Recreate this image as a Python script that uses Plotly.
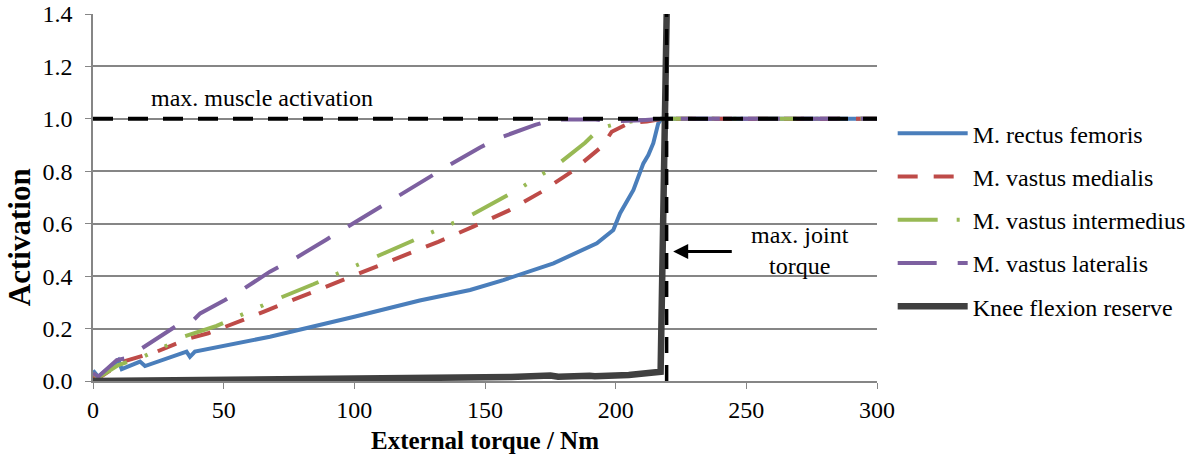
import plotly.graph_objects as go

# ---- data ----
rf_x = [0, 2, 9.7, 11, 18, 19.9, 35.8, 37.1, 39, 67.7, 100, 125, 144.3, 157, 176.2, 192.8, 199.1, 201.7, 206.8, 210.6, 212.5, 214.4, 216.3, 217.5, 219, 300]
rf_y = [0.04, 0.016, 0.08, 0.045, 0.074, 0.057, 0.112, 0.092, 0.112, 0.169, 0.245, 0.307, 0.347, 0.385, 0.449, 0.525, 0.576, 0.64, 0.729, 0.83, 0.862, 0.907, 0.983, 1.0, 1.0, 1.0]

vm_x = [0, 2, 11.6, 18, 24.4, 31.4, 37.1, 44.1, 51.2, 57.5, 65.2, 78, 92, 105.4, 118.8, 132.1, 145.5, 159, 171.7, 183.2, 194.7, 198.5, 204.9, 211.9, 218, 300]
vm_y = [0.02, 0.01, 0.074, 0.095, 0.112, 0.141, 0.163, 0.182, 0.207, 0.233, 0.264, 0.315, 0.37, 0.423, 0.477, 0.531, 0.589, 0.65, 0.722, 0.799, 0.894, 0.951, 0.983, 0.99, 1.0, 1.0]

vi_x = [0, 2, 9.7, 19.3, 26.9, 33.9, 47.3, 55, 62.6, 70.3, 84.3, 91.3, 99, 106.6, 120, 127.4, 135.1, 143, 155.8, 162.8, 169.8, 176.8, 188.3, 194, 201.7, 210, 218, 300]
vi_y = [0.03, 0.012, 0.061, 0.093, 0.128, 0.167, 0.21, 0.245, 0.277, 0.312, 0.369, 0.4, 0.434, 0.464, 0.525, 0.557, 0.591, 0.624, 0.693, 0.731, 0.776, 0.818, 0.909, 0.964, 0.985, 0.995, 1.0, 1.0]

vl_x = [0, 2, 9.1, 12.2, 18.6, 31.4, 37.8, 41, 50.5, 56.9, 67.7, 76.7, 89.4, 96.4, 109.2, 115.6, 128.3, 135.4, 148.1, 155.1, 169.2, 176.8, 191.5, 199, 210, 218, 300]
vl_y = [0.03, 0.016, 0.08, 0.086, 0.124, 0.207, 0.226, 0.258, 0.309, 0.347, 0.417, 0.464, 0.54, 0.582, 0.661, 0.7, 0.777, 0.818, 0.891, 0.926, 0.977, 0.998, 0.998, 0.99, 0.995, 1.0, 1.0]

kf_x = [0, 50, 100, 145, 160, 175, 178, 190, 192, 205, 217.2, 219.6]
kf_y = [0.0, 0.004, 0.008, 0.013, 0.015, 0.021, 0.016, 0.02, 0.018, 0.023, 0.035, 1.45]

names = ["M. rectus femoris", "M. vastus medialis", "M. vastus intermedius",
         "M. vastus lateralis", "Knee flexion reserve"]

max_activation = 1.0
max_torque = 219.5
x_range = [0, 300]
y_range = [0, 1.4]

FONT = "Liberation Serif"
FS = 24

fig = go.Figure()
series = [
    (rf_x, rf_y, "#4A7EBB", "solid", 4),
    (vm_x, vm_y, "#BE4B48", "20px,16px", 4),
    (vi_x, vi_y, "#98B954", "40px,19px,3px,19px,3px,20px", 4),
    (vl_x, vl_y, "#7D60A0", "39px,21px", 4),
    (kf_x, kf_y, "#404040", "solid", 6.5),
]
for i, (xs, ys, col, dash, w) in enumerate(series):
    fig.add_trace(go.Scatter(x=xs, y=ys, mode="lines", name=names[i],
                             legendgroup=str(i),
                             line=dict(color=col, dash=dash, width=w)))

# reference lines
fig.add_trace(go.Scatter(x=x_range, y=[max_activation, max_activation], mode="lines",
                         showlegend=False, line=dict(color="black", dash="20px,15px", width=4)))
fig.add_trace(go.Scatter(x=[max_torque, max_torque], y=y_range, mode="lines",
                         showlegend=False, line=dict(color="black", dash="16px,12px", width=3.5)))

fig.add_annotation(x=64.7, y=1.08, text="max. muscle activation", showarrow=False,
                   font=dict(family=FONT, size=FS, color="black"))
fig.add_annotation(x=270.6, y=0.496, text="max. joint<br>torque", showarrow=False,
                   font=dict(family=FONT, size=FS, color="black"))
fig.add_annotation(x=222, y=0.494, ax=245, ay=0.494, axref="x", ayref="y", xref="x", yref="y",
                   text="", showarrow=True, arrowhead=2, arrowsize=1, arrowwidth=3,
                   arrowcolor="black")
# y-axis title (placed like the original, below the axis centre)
fig.add_annotation(xref="paper", yref="paper", x=-0.0944, y=0.392,
                   xanchor="center", yanchor="middle",
                   text="<b>Activation</b>", textangle=-90, showarrow=False,
                   font=dict(family=FONT, size=31, color="black"))

fig.update_layout(
    width=1198, height=462,
    margin=dict(l=93, r=321, t=14, b=81, autoexpand=False),
    paper_bgcolor="white", plot_bgcolor="white",
    font=dict(family=FONT, size=FS, color="black"),
    legend=dict(x=1.02, xanchor="left", y=0.735, yanchor="top",
                font=dict(family=FONT, size=FS), tracegroupgap=9,
                itemwidth=70, bgcolor="rgba(0,0,0,0)"),
    showlegend=True,
)
fig.update_xaxes(range=x_range, dtick=50, showgrid=False, showline=True,
                 linecolor="#868686", linewidth=1.5, ticks="outside", ticklen=6,
                 tickcolor="#868686", zeroline=False, automargin=False,
                 tickfont=dict(size=FS),
                 title=dict(text="<b>External torque / Nm</b>", standoff=10,
                            font=dict(size=25)))
fig.update_yaxes(range=y_range, dtick=0.2, tickformat=".1f", showgrid=True,
                 gridcolor="#868686", gridwidth=1.5, showline=True,
                 linecolor="#868686", linewidth=1.5, ticks="outside", ticklen=6,
                 tickcolor="#868686", zeroline=False, automargin=False,
                 tickfont=dict(size=FS), ticklabelstandoff=8)

fig.write_html("out.html")
